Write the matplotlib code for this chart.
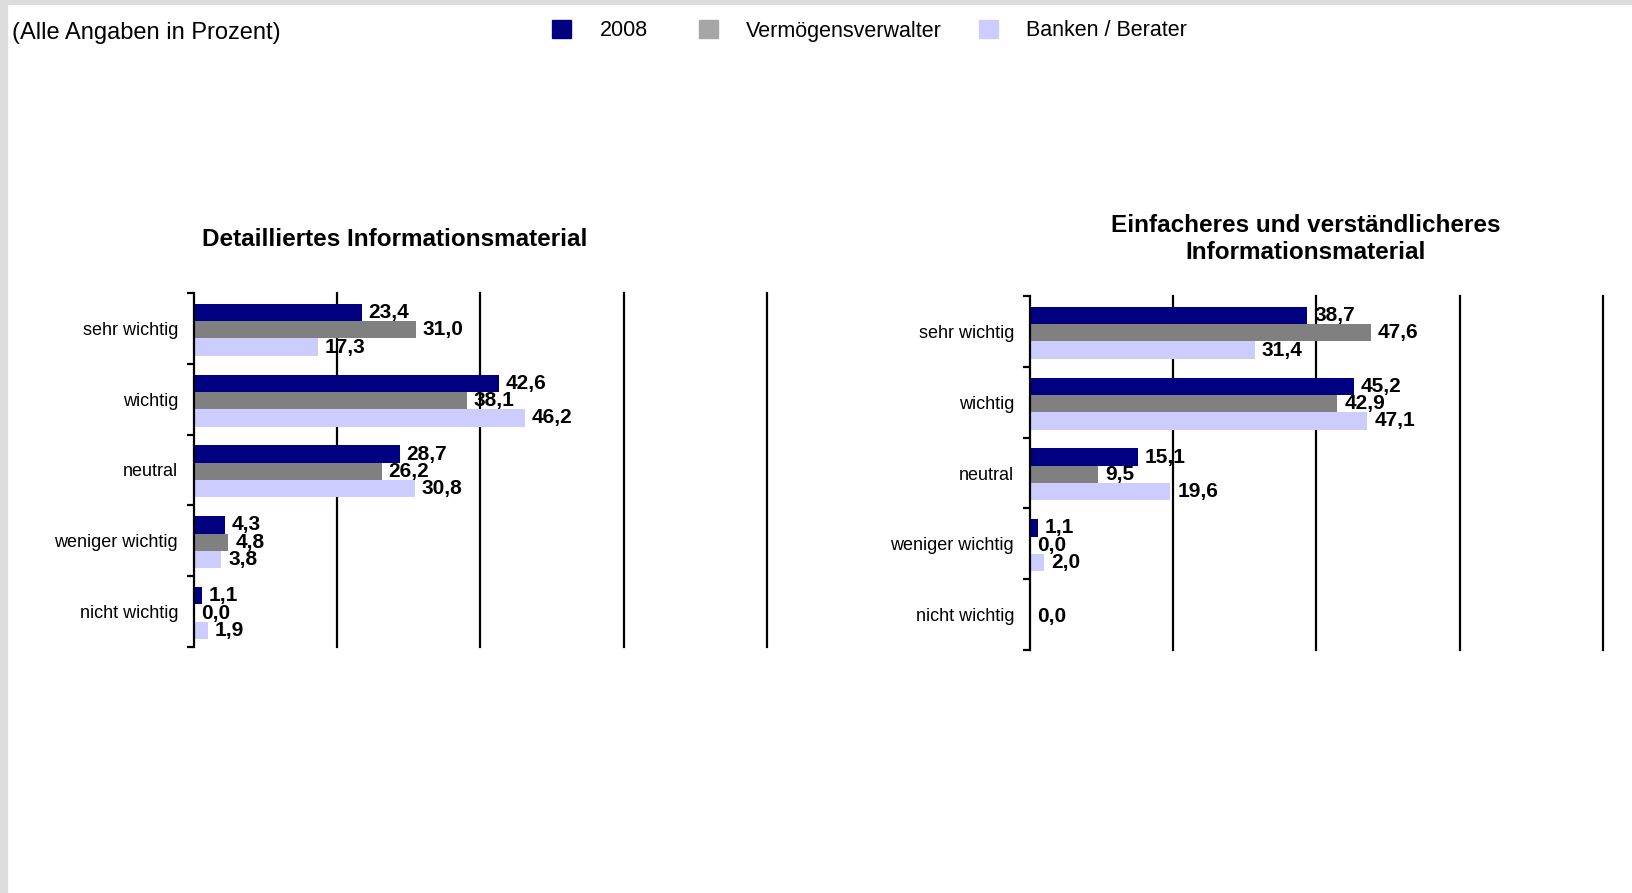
import numpy as np
import matplotlib.pyplot as plt
from matplotlib.patches import Rectangle

plt.rcParams["font.family"] = ["Liberation Sans", "DejaVu Sans"]

categories = ["sehr wichtig", "wichtig", "neutral", "weniger wichtig", "nicht wichtig"]
series_names = ["2008", "Vermögensverwalter", "Banken / Berater"]

# Detailliertes Informationsmaterial
left_2008 = [23.4, 42.6, 28.7, 4.3, 1.1]
left_vv = [31.0, 38.1, 26.2, 4.8, 0.0]
left_banken = [17.3, 46.2, 30.8, 3.8, 1.9]

# Einfacheres und verständlicheres Informationsmaterial (nan = kein Wert)
right_2008 = [38.7, 45.2, 15.1, 1.1, np.nan]
right_vv = [47.6, 42.9, 9.5, 0.0, 0.0]
right_banken = [31.4, 47.1, 19.6, 2.0, np.nan]

bar_colors = ["#000080", "#808080", "#CCCCFF"]
legend_colors = ["#000080", "#A6A6A6", "#CCCCFF"]

W, H = 1633, 893
fig = plt.figure(figsize=(W / 100, H / 100), dpi=100)


def fx(px):
    return px / W


def fy(py):
    return 1 - py / H


def draw_panel(rect, series):
    ax = fig.add_axes(rect)
    y = np.arange(len(categories))
    h = 0.245
    for k, vals in enumerate(series):
        vals = np.array(vals, dtype=float)
        pos = y + (k - 1) * h + 0.02
        ax.barh(pos, np.nan_to_num(vals), height=h, color=bar_colors[k], zorder=3)
        for p, v in zip(pos, vals):
            if np.isnan(v):
                continue
            ax.annotate(f"{v:.1f}".replace(".", ","), (v, p), xytext=(5, 0),
                        textcoords="offset points", ha="left", va="center",
                        fontsize=15, fontweight="bold", zorder=5)
    ax.set_xlim(0, 80)
    ax.set_ylim(len(categories) - 0.5, -0.5)
    ax.set_xticks([20, 40, 60, 80])
    ax.grid(axis="x", color="black", linewidth=1.6, zorder=1)
    ax.tick_params(axis="x", length=0, labelbottom=False)
    ax.set_yticks(y)
    ax.set_yticklabels(categories, fontsize=13)
    ax.set_yticks(np.arange(-0.5, len(categories)), minor=True)
    ax.tick_params(axis="y", which="major", length=0, pad=11.5)
    ax.tick_params(axis="y", which="minor", length=5, width=1.6, direction="out")
    for s in ["top", "right", "bottom"]:
        ax.spines[s].set_visible(False)
    ax.spines["left"].set_linewidth(1.6)
    ax.spines["left"].set_zorder(6)
    for line in ax.get_xgridlines():
        line.set_clip_on(False)
    return ax


draw_panel([fx(194), fy(647), fx(573), (647 - 293) / H],
           [left_2008, left_vv, left_banken])
draw_panel([fx(1030), fy(650), fx(573), (650 - 296) / H],
           [right_2008, right_vv, right_banken])

fig.text(fx(395), fy(240), "Detailliertes Informationsmaterial",
         ha="center", va="center", fontsize=17.5, fontweight="bold")
fig.text(fx(1306), fy(239), "Einfacheres und verständlicheres\nInformationsmaterial",
         ha="center", va="center", fontsize=17.5, fontweight="bold", linespacing=1.2)

fig.text(fx(12), fy(33), "(Alle Angaben in Prozent)", ha="left", va="center", fontsize=17)

# legend boxes and names
box_x = [552, 699, 979]
text_x = [600, 746, 1026]
for name, c, bx, tx in zip(series_names, legend_colors, box_x, text_x):
    fig.patches.append(Rectangle((fx(bx), fy(38)), fx(19), 18 / H, color=c,
                                 transform=fig.transFigure, figure=fig))
    fig.text(fx(tx), fy(31), name, ha="left", va="center", fontsize=15.5)

# grey frame along the top and left edge
fig.patches.append(Rectangle((0, 0), fx(7), 1, color="#DCDCDC",
                             transform=fig.transFigure, figure=fig))
fig.patches.append(Rectangle((0, fy(4)), 1, 4 / H, color="#DCDCDC",
                             transform=fig.transFigure, figure=fig))

fig.savefig("out.png", dpi=100, facecolor="white")
